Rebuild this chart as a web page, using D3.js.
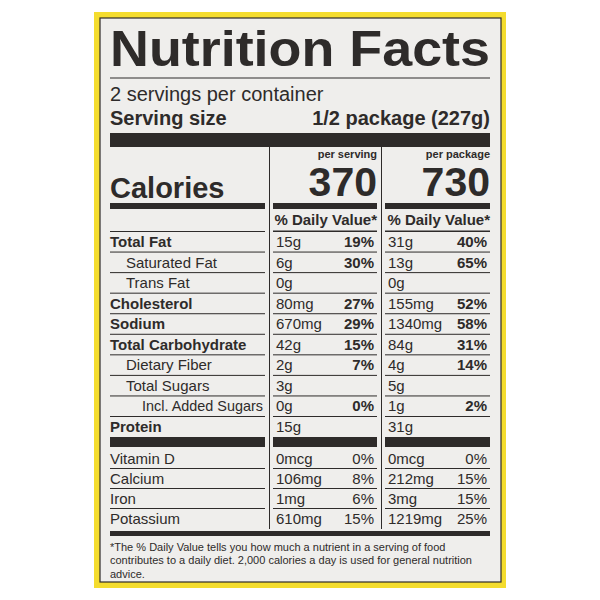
<!DOCTYPE html>
<html><head><meta charset="utf-8">
<script src="https://cdn.jsdelivr.net/npm/d3@7"></script>
<style>body{margin:0;background:#fff}</style>
</head><body><div id="chart"></div>
<script>
const labels = ["Total Fat","Saturated Fat","Trans Fat","Cholesterol","Sodium","Total Carbohydrate","Dietary Fiber","Total Sugars","Incl. Added Sugars","Protein"];
const indent = [0,1,1,0,0,0,1,1,2,0];
const bold = [1,0,0,1,1,1,0,0,0,1];
const servAmt = ["15g","6g","0g","80mg","670mg","42g","2g","3g","0g","15g"];
const servPct = ["19%","30%","","27%","29%","15%","7%","","0%",""];
const pkgAmt = ["31g","13g","0g","155mg","1340mg","84g","4g","5g","1g","31g"];
const pkgPct = ["40%","65%","","52%","58%","31%","14%","","2%",""];
const vitLabels = ["Vitamin D","Calcium","Iron","Potassium"];
const vitServAmt = ["0mcg","106mg","1mg","610mg"];
const vitServPct = ["0%","8%","6%","15%"];
const vitPkgAmt = ["0mcg","212mg","3mg","1219mg"];
const vitPkgPct = ["0%","15%","15%","25%"];
const calories = ["370","730"];

const ink = "#2e2b2a";
const svg = d3.select("#chart").append("svg").attr("width",600).attr("height",600)
  .style("font-family","'Liberation Sans', Arial, sans-serif");
svg.append("rect").attr("x",94).attr("y",12).attr("width",412).attr("height",576).attr("fill","#f4dc2e");
svg.append("rect").attr("x",100).attr("y",18).attr("width",401).attr("height",564).attr("fill","#efeeec")
  .attr("stroke",ink).attr("stroke-width",1.2);
const g = svg.append("g").attr("fill",ink);
function text(x,y,t,size,b,anchor){
  return g.append("text").attr("x",x).attr("y",y).text(t).style("font-size",size+"px")
    .style("font-weight",b?"bold":"normal").attr("text-anchor",anchor||"start").attr("fill",ink);
}
function bar(x1,x2,y,h){ g.append("rect").attr("x",x1).attr("y",y).attr("width",x2-x1).attr("height",h).attr("fill",ink); }

text(110,66,"Nutrition Facts",50,1).attr("textLength",380).attr("lengthAdjust","spacingAndGlyphs");
bar(110,490,77.5,1);
text(110,101,"2 servings per container",20,0);
text(110,125,"Serving size",20,1);
text(490,125,"1/2 package (227g)",20,1,"end");
bar(110,490,133,14);

const cols = [[110,265],[273,377],[385,490]];
bar(269,270,147,382); bar(381,382,147,382);
text(377,158,"per serving",11,1,"end");
text(490,158,"per package",11,1,"end");
text(110,198,"Calories",29,1);
text(377,196,calories[0],41,1,"end");
text(490,196,calories[1],41,1,"end");
cols.forEach(c=>bar(c[0],c[1],203,6));
text(377,225,"% Daily Value*",15,1,"end");
text(490,225,"% Daily Value*",15,1,"end");
bar(cols[1][0],cols[1][1],230.5,1); bar(cols[2][0],cols[2][1],230.5,1);

const y = d3.scaleLinear().domain([0,9]).range([247,432]);
labels.forEach((l,i)=>{
  const yy = y(i);
  cols.forEach(c=>bar(c[0],c[1],yy-16,1));
  const t = text(110+indent[i]*16,yy,l,15,bold[i]);
  if(indent[i]==2) t.attr("textLength",121).attr("lengthAdjust","spacingAndGlyphs");
  text(276,yy,servAmt[i],15,0);
  text(374,yy,servPct[i],15,1,"end");
  text(388,yy,pkgAmt[i],15,0);
  text(487,yy,pkgPct[i],15,1,"end");
});
cols.forEach(c=>bar(c[0],c[1],437,10));
const yv = d3.scaleLinear().domain([0,3]).range([464,524]);
vitLabels.forEach((l,i)=>{
  const yy = yv(i);
  if(i>0) cols.forEach(c=>bar(c[0],c[1],yy-16,1));
  text(110,yy,l,15,0);
  text(276,yy,vitServAmt[i],15,0);
  text(374,yy,vitServPct[i],15,0,"end");
  text(388,yy,vitPkgAmt[i],15,0);
  text(487,yy,vitPkgPct[i],15,0,"end");
});
bar(110,490,531,5);
["*The % Daily Value tells you how much a nutrient in a serving of food",
 "contributes to a daily diet. 2,000 calories a day is used for general nutrition",
 "advice."].forEach((t,i)=>text(110,551+i*13.3,t,11,0));
</script></body></html>
